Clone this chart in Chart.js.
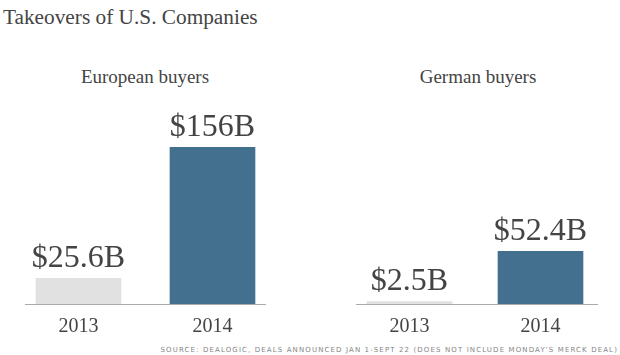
<!DOCTYPE html>
<html>
<head>
<meta charset="utf-8">
<script src="https://cdn.jsdelivr.net/npm/chart.js@4.4.1/dist/chart.umd.min.js"></script>
<style>
  html, body { margin:0; padding:0; background:#fff; }
  #wrap { position:relative; width:620px; height:355px; overflow:hidden; }
  .txt { position:absolute; font-family:"Liberation Serif", serif; color:#444; line-height:1; white-space:nowrap; }
  #title { left:3px; top:7.2px; font-size:21.3px; }
  .sub { font-size:19px; top:66.8px; transform:translateX(-50%); }
  #source { right:2px; top:347px; font-family:"DejaVu Sans", sans-serif; font-size:7px; letter-spacing:1.12px; color:#858585; line-height:7px; }
  canvas { position:absolute; top:0; }
</style>
</head>
<body>
<div id="wrap">
  <div id="title" class="txt">Takeovers of U.S. Companies</div>
  <div class="txt sub" id="sub1" style="left:145px">European buyers</div>
  <div class="txt sub" id="sub2" style="left:478px">German buyers</div>
  <div id="source" class="txt">SOURCE: DEALOGIC, DEALS ANNOUNCED JAN 1-SEPT 22 (DOES NOT INCLUDE MONDAY'S MERCK DEAL)</div>
  <canvas id="c1" width="310" height="355" style="left:0;width:310px;height:355px"></canvas>
  <canvas id="c2" width="310" height="355" style="left:310px;width:310px;height:355px"></canvas>
</div>
<script>
const years = ["2013", "2014"];
const europeanValues = [25.6, 156];
const germanValues = [2.5, 52.4];
const europeanLabels = ["$25.6B", "$156B"];
const germanLabels = ["$2.5B", "$52.4B"];
const barColors = ["#e1e1e1", "#44708f"];

function makeChart(id, values, labels, pad, extL, extR) {
  const labelPlugin = {
    id: 'vals' + id,
    afterDatasetsDraw(chart) {
      const ctx = chart.ctx;
      const meta = chart.getDatasetMeta(0);
      ctx.save();
      const first = meta.data[0], last = meta.data[meta.data.length - 1];
      const y0 = chart.scales.y.getPixelForValue(0);
      ctx.strokeStyle = '#aaaaaa';
      ctx.lineWidth = 1;
      ctx.beginPath();
      ctx.moveTo(first.x - first.width / 2 - extL, Math.round(y0) + 0.5);
      ctx.lineTo(last.x + last.width / 2 + extR, Math.round(y0) + 0.5);
      ctx.stroke();
      ctx.fillStyle = '#444444';
      ctx.font = '32px "Liberation Serif", serif';
      ctx.textAlign = 'center';
      ctx.textBaseline = 'alphabetic';
      meta.data.forEach((bar, i) => {
        ctx.fillText(labels[i], bar.x, bar.y - 11);
      });
      ctx.restore();
    }
  };
  return new Chart(document.getElementById(id), {
    type: 'bar',
    data: {
      labels: years,
      datasets: [{ data: values, backgroundColor: barColors, borderWidth: 0, barThickness: 85 }]
    },
    options: {
      responsive: false,
      animation: false,
      devicePixelRatio: 1,
      layout: { padding: pad },
      plugins: { legend: { display: false }, tooltip: { enabled: false }, title: { display: false } },
      scales: {
        x: {
          offset: true,
          grid: { display: false, drawTicks: false },
          border: { display: false },
          afterFit(scale) { scale.height = 51; },
          ticks: { color: '#444444', padding: 11, font: { family: '"Liberation Serif", serif', size: 20 } }
        },
        y: {
          display: false,
          min: 0,
          max: 200
        }
      }
    },
    plugins: [labelPlugin]
  });
}

makeChart('c1', europeanValues, europeanLabels, { left: 11.5, right: 30.5, top: 103, bottom: 0 }, 11, 11);
makeChart('c2', germanValues, germanLabels, { left: 34, right: 14, top: 103, bottom: 0 }, 11, 15);
</script>
</body>
</html>
